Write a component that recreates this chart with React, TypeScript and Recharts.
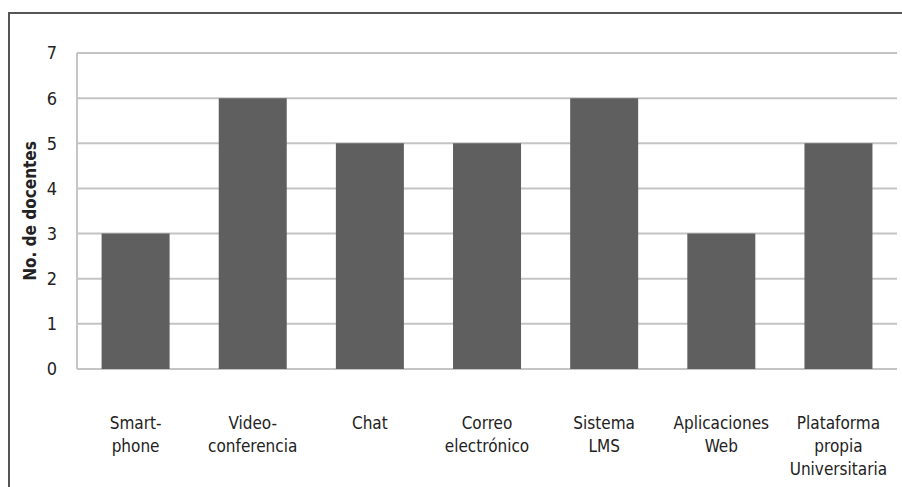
import React from "react";
import { BarChart, Bar, XAxis, YAxis, CartesianGrid } from "recharts";

// Herramientas usadas por los docentes
const categories = [
  "Smart-\nphone",
  "Video-\nconferencia",
  "Chat",
  "Correo\nelectrónico",
  "Sistema\nLMS",
  "Aplicaciones\nWeb",
  "Plataforma\npropia\nUniversitaria",
];
const docentes = [3, 6, 5, 5, 6, 3, 5];
const yTicks = [0, 1, 2, 3, 4, 5, 6, 7];

const data = categories.map((name, i) => ({ name, value: docentes[i] }));

const FONT = "'Liberation Sans Narrow', 'DejaVu Sans Condensed', 'Roboto', sans-serif";

const CategoryTick = (props: any) => {
  const { x, y, payload } = props;
  const lines = String(payload.value).split("\n");
  return (
    <text x={x} y={y} textAnchor="middle" fontFamily={FONT} fontSize={17} fill="#222">
      {lines.map((l, i) => (
        <tspan key={i} x={x} y={y + 52 + i * 23}>
          {l}
        </tspan>
      ))}
    </text>
  );
};

export default function App() {
  return (
    <div style={{ position: "fixed", left: 0, top: 0, width: 902, height: 487, background: "#fff" }}>
      {/* marco */}
      <div
        style={{
          position: "absolute",
          left: 8,
          top: 12,
          width: 900,
          height: 480,
          borderTop: "2px solid #555",
          borderLeft: "2px solid #555",
        }}
      />
      <div style={{ position: "absolute", left: 0, top: 0 }}>
        <BarChart
          width={902}
          height={487}
          data={data}
          margin={{ top: 53, right: 5, bottom: 88, left: 0 }}
          barCategoryGap="21%"
        >
          <CartesianGrid vertical={false} stroke="#c4c4c4" strokeWidth={2} />
          <XAxis
            dataKey="name"
            height={30}
            axisLine={false}
            tickLine={false}
            interval={0}
            tick={<CategoryTick />}
          />
          <YAxis
            width={77}
            domain={[0, 7]}
            ticks={yTicks}
            axisLine={{ stroke: "#c4c4c4", strokeWidth: 2 }}
            tickLine={false}
            tickSize={0}
            tickMargin={20}
            tick={{ fontFamily: FONT, fontSize: 18, fill: "#222" }}
            label={{
              value: "No. de docentes",
              angle: -90,
              position: "insideLeft",
              offset: 30,
              style: { textAnchor: "middle", fontFamily: FONT, fontSize: 17, fontWeight: "bold", fill: "#222" },
            }}
          />
          <Bar dataKey="value" fill="#5f5f5f" isAnimationActive={false} />
        </BarChart>
      </div>
    </div>
  );
}
